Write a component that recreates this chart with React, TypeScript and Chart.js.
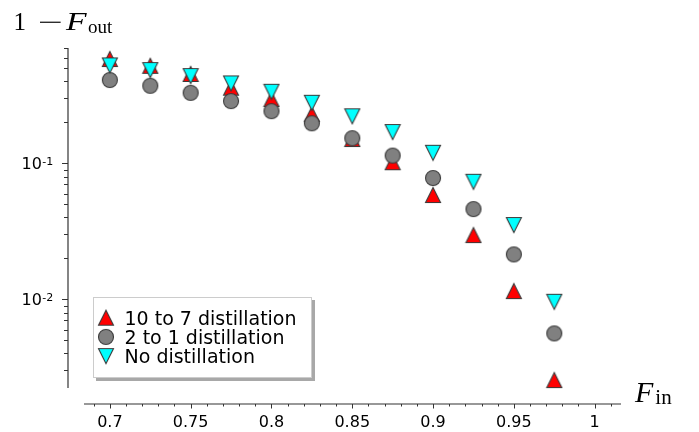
import React, { useEffect, useRef } from 'react';
import { Chart, registerables } from 'chart.js';

Chart.register(...registerables);

// ---- data ----
const fIn = [0.7, 0.725, 0.75, 0.775, 0.8, 0.825, 0.85, 0.875, 0.9, 0.925, 0.95, 0.975];
const tenToSeven = [0.585, 0.521, 0.454, 0.36, 0.297, 0.23, 0.151, 0.102, 0.0585, 0.0297, 0.0115, 0.00255];
const twoToOne = [0.41, 0.372, 0.33, 0.287, 0.242, 0.197, 0.153, 0.114, 0.078, 0.0461, 0.0214, 0.00562];
const noDistillation = [0.525, 0.485, 0.438, 0.387, 0.336, 0.279, 0.222, 0.17, 0.1196, 0.0732, 0.0352, 0.0096];
const seriesLabels = ['10 to 7 distillation', '2 to 1 distillation', 'No distillation'];

// ---- ticks ----
const xMajorTicks = [0.7, 0.75, 0.8, 0.85, 0.9, 0.95, 1];
const xMajorLabels = ['0.7', '0.75', '0.8', '0.85', '0.9', '0.95', '1'];
const xMinorTicks = [
  0.69, 0.71, 0.72, 0.73, 0.74, 0.76, 0.77, 0.78, 0.79, 0.81, 0.82, 0.83, 0.84,
  0.86, 0.87, 0.88, 0.89, 0.91, 0.92, 0.93, 0.94, 0.96, 0.97, 0.98, 0.99, 1.01,
];
const yMajorTicks = [0.1, 0.01];
const yMajorExponents = ['-1', '-2'];
const yMinorTicks = [
  0.003, 0.004, 0.005, 0.006, 0.007, 0.008, 0.009,
  0.02, 0.03, 0.04, 0.05, 0.06, 0.07, 0.08, 0.09,
  0.2, 0.3, 0.4, 0.5, 0.6, 0.7,
];

const X_MIN = 0.684;
const X_MAX = 1.0163;
const Y_MIN = 0.00223;
const Y_MAX = 0.705;

const EDGE = '#3a3a3a';
const AXIS = '#333333';

function makeMarker(shape: 'up' | 'down' | 'circle', fill: string): HTMLCanvasElement {
  const s = 18;
  const c = 9;
  const h = 7.5;
  const cv = document.createElement('canvas');
  cv.width = s;
  cv.height = s;
  const ctx = cv.getContext('2d')!;
  ctx.beginPath();
  if (shape === 'up') {
    ctx.moveTo(c, c - h);
    ctx.lineTo(c + h, c + h);
    ctx.lineTo(c - h, c + h);
    ctx.closePath();
  } else if (shape === 'down') {
    ctx.moveTo(c, c + h);
    ctx.lineTo(c + h, c - h);
    ctx.lineTo(c - h, c - h);
    ctx.closePath();
  } else {
    ctx.arc(c, c, h, 0, Math.PI * 2);
  }
  ctx.fillStyle = fill;
  ctx.fill();
  ctx.lineWidth = 1.1;
  ctx.strokeStyle = EDGE;
  ctx.stroke();
  return cv;
}

function makeAxesPlugin() {
  return {
    id: 'sageAxes',
    afterDraw(chart: any) {
      const { ctx, chartArea, scales } = chart;
      const xs = scales.x;
      const ys = scales.y;
      const axisX = chartArea.left - 16;
      const axisY = chartArea.bottom + 16;
      ctx.save();
      ctx.strokeStyle = AXIS;
      ctx.lineWidth = 1.2;
      // y axis line
      ctx.beginPath();
      ctx.moveTo(axisX, chartArea.top);
      ctx.lineTo(axisX, chartArea.bottom);
      ctx.stroke();
      // x axis line
      ctx.beginPath();
      ctx.moveTo(chartArea.left, axisY);
      ctx.lineTo(chartArea.right, axisY);
      ctx.stroke();

      // x ticks
      ctx.lineWidth = 1;
      xMajorTicks.forEach((v) => {
        const px = Math.round(xs.getPixelForValue(v)) + 0.5;
        ctx.beginPath();
        ctx.moveTo(px, axisY);
        ctx.lineTo(px, axisY + 4.5);
        ctx.stroke();
      });
      xMinorTicks.forEach((v) => {
        const px = Math.round(xs.getPixelForValue(v)) + 0.5;
        ctx.beginPath();
        ctx.moveTo(px, axisY);
        ctx.lineTo(px, axisY + 2.5);
        ctx.stroke();
      });
      // y ticks
      yMajorTicks.forEach((v) => {
        const py = Math.round(ys.getPixelForValue(v)) + 0.5;
        ctx.beginPath();
        ctx.moveTo(axisX, py);
        ctx.lineTo(axisX - 6, py);
        ctx.stroke();
      });
      yMinorTicks.forEach((v) => {
        const py = Math.round(ys.getPixelForValue(v)) + 0.5;
        ctx.beginPath();
        ctx.moveTo(axisX, py);
        ctx.lineTo(axisX - 4, py);
        ctx.stroke();
      });

      // x tick labels
      ctx.fillStyle = '#000';
      ctx.font = '16px "DejaVu Sans"';
      ctx.textAlign = 'center';
      ctx.textBaseline = 'alphabetic';
      xMajorTicks.forEach((v, i) => {
        ctx.fillText(xMajorLabels[i], xs.getPixelForValue(v), axisY + 22.5);
      });

      // y tick labels (10^n)
      ctx.textAlign = 'left';
      yMajorTicks.forEach((v, i) => {
        const py = ys.getPixelForValue(v);
        ctx.font = '16px "DejaVu Sans"';
        const baseX = axisX - 46.5;
        ctx.fillText('10', baseX, py + 5.8);
        const w = ctx.measureText('10').width;
        ctx.font = '11px "DejaVu Sans"';
        ctx.fillText(yMajorExponents[i], baseX + w + 0.5, py + 1.2);
      });

      // y title: 1 − F_out
      ctx.font = '25px "Liberation Serif"';
      ctx.fillText('1', 13.5, 30);
      ctx.save();
      ctx.translate(38, 30);
      ctx.scale(1.85, 1);
      ctx.font = '24px "Liberation Serif"';
      ctx.fillText('\u2212', 0, 0);
      ctx.restore();
      ctx.save();
      ctx.translate(66, 30);
      ctx.scale(1.35, 1);
      ctx.font = 'italic 25px "Liberation Serif"';
      ctx.fillText('F', 0, 0);
      const fw = ctx.measureText('F').width * 1.35;
      ctx.restore();
      ctx.font = '19px "Liberation Serif"';
      ctx.fillText('out', 66 + fw + 1.5, 33.3);

      // x title: F_in
      ctx.font = 'italic 30px "Liberation Serif"';
      ctx.fillText('F', 635, 402);
      const fw2 = ctx.measureText('F').width;
      ctx.font = '21px "Liberation Serif"';
      ctx.fillText('in', 635 + fw2 + 2, 404);
      ctx.restore();
    },
  };
}

function makeLegendPlugin(markers: HTMLCanvasElement[]) {
  return {
    id: 'boxLegend',
    afterDraw(chart: any) {
      const { ctx, chartArea } = chart;
      const left = chartArea.left + 9;
      const bottom = chartArea.bottom - 10;
      const w = 219;
      const h = 81;
      const top = bottom - h;
      ctx.save();
      // shadow
      ctx.fillStyle = '#a8a8a8';
      ctx.fillRect(left + 3, top + 3, w, h);
      // box
      ctx.fillStyle = '#ffffff';
      ctx.fillRect(left, top, w, h);
      ctx.strokeStyle = '#cccccc';
      ctx.lineWidth = 1;
      ctx.strokeRect(left + 0.5, top + 0.5, w - 1, h - 1);
      // entries
      ctx.fillStyle = '#000';
      ctx.font = '19px "DejaVu Sans"';
      ctx.textAlign = 'left';
      ctx.textBaseline = 'alphabetic';
      seriesLabels.forEach((label, i) => {
        const cy = top + 20.7 + i * 19.2;
        const m = markers[i];
        ctx.drawImage(m, left + 13 - m.width / 2, cy - m.height / 2);
        ctx.fillText(label, left + 31.5, cy + 6.8);
      });
      ctx.restore();
    },
  };
}

export default function App() {
  const canvasRef = useRef<HTMLCanvasElement>(null);

  useEffect(() => {
    const canvas = canvasRef.current;
    if (!canvas) return;
    const markers = [
      makeMarker('up', '#ff0000'),
      makeMarker('circle', '#808080'),
      makeMarker('down', '#00ffff'),
    ];
    const toPoints = (ys: number[]) => fIn.map((x, i) => ({ x, y: ys[i] }));
    const seriesValues = [tenToSeven, twoToOne, noDistillation];
    const orders = [3, 2, 1];

    const chart = new Chart(canvas, {
      type: 'scatter',
      data: {
        datasets: seriesValues.map((vals, i) => ({
          label: seriesLabels[i],
          data: toPoints(vals),
          pointStyle: markers[i] as any,
          pointRadius: 8,
          pointHoverRadius: 8,
          showLine: false,
          clip: false as any,
          order: orders[i],
        })),
      },
      options: {
        animation: false,
        responsive: false,
        devicePixelRatio: 1,
        events: [],
        layout: { padding: { left: 84, right: 78, top: 48, bottom: 44 } },
        scales: {
          x: { type: 'linear', min: X_MIN, max: X_MAX, display: false },
          y: { type: 'logarithmic', min: Y_MIN, max: Y_MAX, display: false },
        },
        plugins: {
          legend: { display: false },
          tooltip: { enabled: false },
        },
      },
      plugins: [makeAxesPlugin(), makeLegendPlugin(markers)],
    });
    return () => chart.destroy();
  }, []);

  return (
    <div style={{ position: 'fixed', left: 0, top: 0, width: 699, height: 432, background: '#ffffff' }}>
      <canvas ref={canvasRef} width={699} height={432} style={{ display: 'block', width: 699, height: 432 }} />
    </div>
  );
}
